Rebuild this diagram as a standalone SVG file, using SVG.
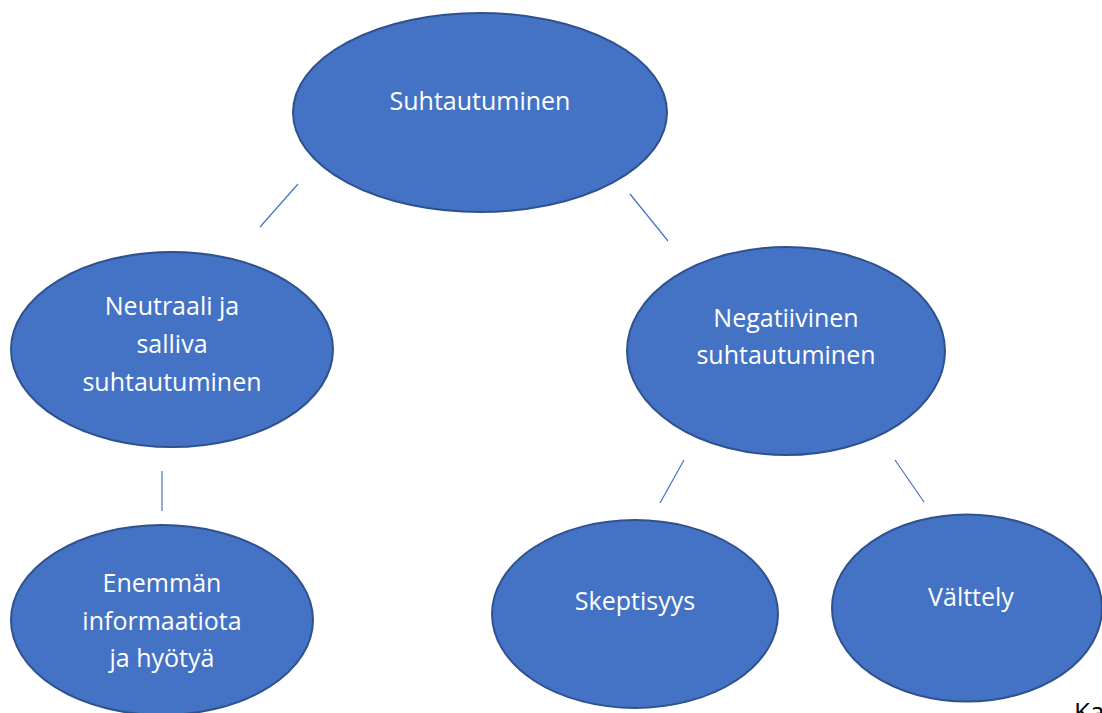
<svg xmlns="http://www.w3.org/2000/svg" width="1102" height="713" viewBox="0 0 1102 713">
<style>
.n{fill:#4472C4;stroke:#2F528F;stroke-width:2}
.t{fill:#fff;font-family:"Open Sans",Lato,"Liberation Sans",sans-serif;font-size:25px;text-anchor:middle}
.c line{stroke:#4472C4;stroke-width:1.2}
</style>
<rect width="1102" height="713" fill="#fff"/>
<g class="c" id="connectors">
<line x1="298" y1="184" x2="260" y2="227"/>
<line x1="630" y1="194" x2="668" y2="241"/>
<line x1="162" y1="471" x2="162" y2="511"/>
<line x1="684" y1="460" x2="660" y2="503"/>
<line x1="895" y1="460" x2="924" y2="502"/>
</g>
<g id="n1"><ellipse class="n" cx="480" cy="112.5" rx="187" ry="99.5"/><text class="t" x="480" y="110">Suhtautuminen</text></g>
<g id="n2"><ellipse class="n" cx="172" cy="349.5" rx="161" ry="97.5"/><text class="t" x="172" y="315">Neutraali ja</text><text class="t" x="172" y="353">salliva</text><text class="t" x="172" y="391">suhtautuminen</text></g>
<g id="n3"><ellipse class="n" cx="786" cy="351" rx="159" ry="104"/><text class="t" x="786" y="327">Negatiivinen</text><text class="t" x="786" y="364">suhtautuminen</text></g>
<g id="n4"><ellipse class="n" cx="162" cy="620" rx="151" ry="95"/><text class="t" x="162" y="592">Enemmän</text><text class="t" x="162" y="630">informaatiota</text><text class="t" x="162" y="667">ja hyötyä</text></g>
<g id="n5"><ellipse class="n" cx="635" cy="614" rx="143" ry="94"/><text class="t" x="635" y="610">Skeptisyys</text></g>
<g id="n6"><ellipse class="n" cx="967" cy="608" rx="135" ry="93.5"/><text class="t" x="971" y="606">Välttely</text></g>
<text x="1074" y="721" font-family="'Open Sans','Liberation Sans',sans-serif" font-size="26" fill="#000">Ka</text>
</svg>
